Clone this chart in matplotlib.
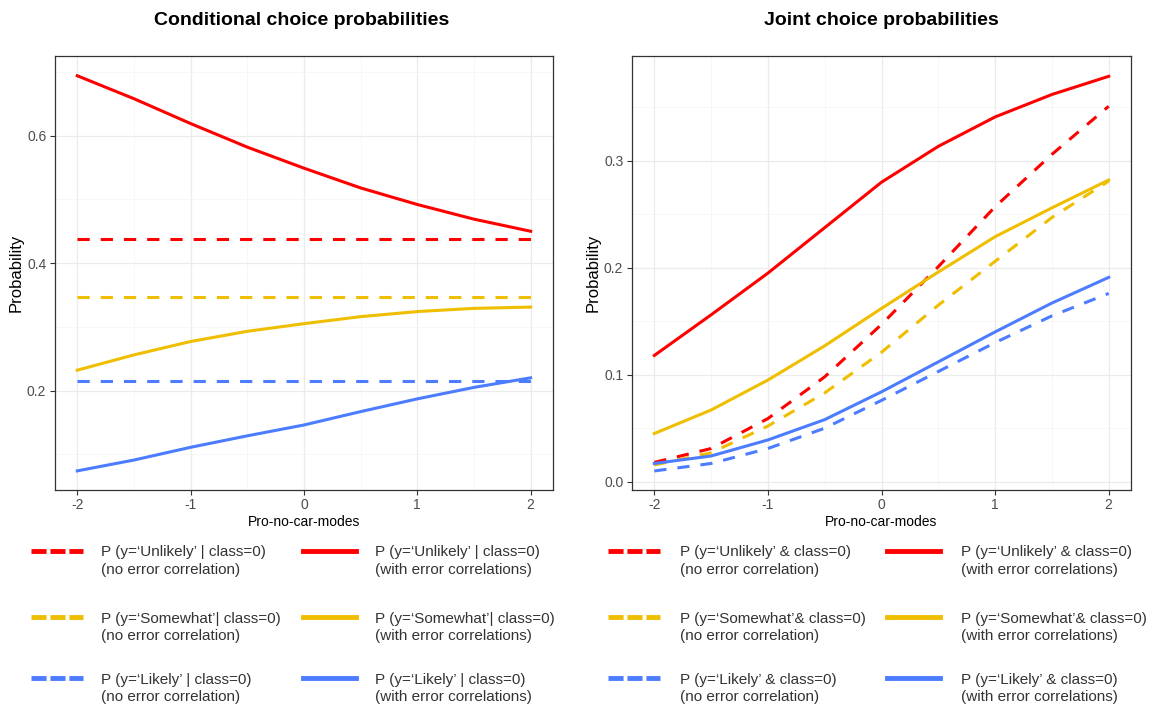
import matplotlib
matplotlib.use("Agg")
import matplotlib.pyplot as plt
from matplotlib.lines import Line2D

plt.rcParams['font.family'] = ['Liberation Sans', 'DejaVu Sans']

# ---------------- data ----------------
x_vals = [-2, -1.5, -1, -0.5, 0, 0.5, 1, 1.5, 2]

# Conditional choice probabilities
cond_unlikely_nocorr = [0.438] * 9
cond_somewhat_nocorr = [0.3475] * 9
cond_likely_nocorr = [0.2155] * 9
cond_unlikely_corr = [0.694, 0.658, 0.619, 0.582, 0.549, 0.518, 0.492, 0.469, 0.450]
cond_somewhat_corr = [0.232, 0.256, 0.277, 0.293, 0.305, 0.316, 0.324, 0.329, 0.331]
cond_likely_corr = [0.074, 0.091, 0.111, 0.129, 0.146, 0.167, 0.187, 0.205, 0.220]

# Joint choice probabilities
joint_unlikely_nocorr = [0.018, 0.031, 0.059, 0.098, 0.147, 0.201, 0.257, 0.306, 0.351]
joint_somewhat_nocorr = [0.0156, 0.027, 0.052, 0.083, 0.121, 0.165, 0.206, 0.247, 0.281]
joint_likely_nocorr = [0.010, 0.017, 0.031, 0.050, 0.076, 0.103, 0.130, 0.155, 0.176]
joint_unlikely_corr = [0.118, 0.156, 0.195, 0.2375, 0.280, 0.3135, 0.341, 0.362, 0.379]
joint_somewhat_corr = [0.045, 0.067, 0.095, 0.127, 0.162, 0.196, 0.229, 0.256, 0.282]
joint_likely_corr = [0.017, 0.024, 0.039, 0.058, 0.084, 0.112, 0.140, 0.167, 0.191]

x_ticks = [-2, -1, 0, 1, 2]
cond_yticks = [0.2, 0.4, 0.6]
joint_yticks = [0.0, 0.1, 0.2, 0.3]

cond_labels_nocorr = ["P (y=\u2018Unlikely\u2019 | class=0)\n(no error correlation)",
                      "P (y=\u2018Somewhat\u2019| class=0)\n(no error correlation)",
                      "P (y=\u2018Likely\u2019 | class=0)\n(no error correlation)"]
cond_labels_corr = ["P (y=\u2018Unlikely\u2019 | class=0)\n(with error correlations)",
                    "P (y=\u2018Somewhat\u2019| class=0)\n(with error correlations)",
                    "P (y=\u2018Likely\u2019 | class=0)\n(with error correlations)"]
joint_labels_nocorr = ["P (y=\u2018Unlikely\u2019 & class=0)\n(no error correlation)",
                       "P (y=\u2018Somewhat\u2019& class=0)\n(no error correlation)",
                       "P (y=\u2018Likely\u2019 & class=0)\n(no error correlation)"]
joint_labels_corr = ["P (y=\u2018Unlikely\u2019 & class=0)\n(with error correlations)",
                     "P (y=\u2018Somewhat\u2019& class=0)\n(with error correlations)",
                     "P (y=\u2018Likely\u2019 & class=0)\n(with error correlations)"]

colors = ["#FF0000", "#F0BE00", "#4C7CFF"]

W, H = 1152, 707
fig = plt.figure(figsize=(W / 100, H / 100), dpi=100)

def fx(px):
    return px / W

def fy(py):
    return 1 - py / H

LW = 2.2
DASH = (4, 3.6)
BOX_TOP, BOX_BOT = 56, 490

def setup_ax(ax, yticks):
    ax.set_facecolor("white")
    for s in ax.spines.values():
        s.set_color("#333333")
        s.set_linewidth(0.9)
    ax.set_xlim(-2.2, 2.2)
    ax.set_xticks(x_ticks)
    ax.set_xticklabels([str(v) for v in x_ticks])
    ax.set_xticks([-1.5, -0.5, 0.5, 1.5], minor=True)
    ax.set_yticks(yticks)
    ax.set_yticklabels([f"{v:.1f}" for v in yticks])
    ax.grid(True, which="major", color="#EBEBEB", linewidth=0.9)
    ax.grid(True, which="minor", color="#F4F4F4", linewidth=0.5)
    ax.set_axisbelow(True)
    ax.tick_params(which="major", length=3.5, width=0.8, color="#333333",
                   labelsize=10, labelcolor="#4D4D4D", pad=2.5)
    ax.tick_params(which="minor", length=0)
    ax.set_xlabel("Pro-no-car-modes", fontsize=10, labelpad=2)
    ax.set_ylabel("Probability", fontsize=12, labelpad=2)

# Left panel
ax1 = fig.add_axes([fx(54.6), fy(BOX_BOT), fx(553.3 - 54.6), (BOX_BOT - BOX_TOP) / H])
setup_ax(ax1, cond_yticks)
ax1.set_yticks([0.1, 0.3, 0.5, 0.7], minor=True)
ax1.set_ylim(0.044, 0.725)
for vals, c in zip([cond_unlikely_nocorr, cond_somewhat_nocorr, cond_likely_nocorr], colors):
    ax1.plot(x_vals, vals, color=c, lw=LW, dashes=DASH)
for vals, c in zip([cond_unlikely_corr, cond_somewhat_corr, cond_likely_corr], colors):
    ax1.plot(x_vals, vals, color=c, lw=LW, solid_joinstyle="round")

# Right panel
ax2 = fig.add_axes([fx(631.6), fy(BOX_BOT), fx(1131.4 - 631.6), (BOX_BOT - BOX_TOP) / H])
setup_ax(ax2, joint_yticks)
ax2.set_yticks([0.05, 0.15, 0.25, 0.35], minor=True)
ax2.set_ylim(-0.0078, 0.398)
for vals, c in zip([joint_unlikely_nocorr, joint_somewhat_nocorr, joint_likely_nocorr], colors):
    ax2.plot(x_vals, vals, color=c, lw=LW, dashes=DASH)
for vals, c in zip([joint_unlikely_corr, joint_somewhat_corr, joint_likely_corr], colors):
    ax2.plot(x_vals, vals, color=c, lw=LW, solid_joinstyle="round")

# Titles
fig.text(fx(302), fy(20.5), "Conditional choice probabilities", fontsize=14,
         fontweight="bold", ha="center", va="center")
fig.text(fx(881.5), fy(20.5), "Joint choice probabilities", fontsize=14,
         fontweight="bold", ha="center", va="center")

# Legends (manual)
row_y = [550.7, 617.3, 678.3]
LEG_FS = 11
LINE_GAP = 17.5

def draw_legend(key1, text1, key2, text2, labels_nc, labels_c):
    for i, yy in enumerate(row_y):
        c = colors[i]
        fig.add_artist(Line2D([fx(key1[0]), fx(key1[1])], [fy(yy), fy(yy)],
                              color=c, lw=3.5, dashes=(3.1, 0.8)))
        fig.add_artist(Line2D([fx(key2[0]), fx(key2[1])], [fy(yy), fy(yy)],
                              color=c, lw=3.5))
        for tx, lab in ((text1, labels_nc[i]), (text2, labels_c[i])):
            for j, line in enumerate(lab.split("\n")):
                fig.text(fx(tx), fy(yy + j * LINE_GAP), line, fontsize=LEG_FS,
                         va="center_baseline", ha="left", color="#333333")

draw_legend((31, 83), 101, (303, 356), 375, cond_labels_nocorr, cond_labels_corr)
draw_legend((608, 660), 680, (887, 940), 961, joint_labels_nocorr, joint_labels_corr)

fig.savefig("out.png", dpi=100, facecolor="white")
